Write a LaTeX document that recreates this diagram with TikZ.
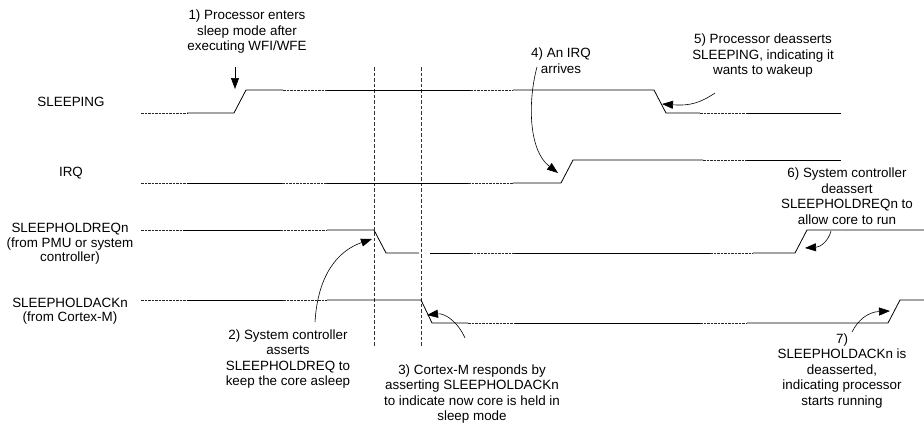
\documentclass[tikz,border=0pt]{standalone}
\usepackage{fontspec}
\setmainfont{Liberation Sans}
\usetikzlibrary{arrows.meta}
\tikzset{
  sig/.style={draw=black, line width=0.8pt},
  brk/.style={draw=black!85, line width=0.7pt, dash pattern=on 2.5pt off 1pt},
  guide/.style={draw=black!80, line width=0.6pt, dash pattern=on 3.5pt off 2pt},
  lbl/.style={align=center, inner sep=0pt, font=\fontsize{13.4}{14.5}\selectfont},
  note/.style={align=center, inner sep=0pt, font=\fontsize{13.4}{15.5}\selectfont},
  arrow/.style={-{Triangle[length=11pt,width=8pt]}, line width=0.6pt}
}
\begin{document}
\begin{tikzpicture}[x=1pt, y=-1pt]
  \useasboundingbox (0,0) rectangle (924,424);
  \node[lbl] (sleeping) at (71,102) {SLEEPING};
  \node[lbl] (irq) at (71,173) {IRQ};
  \node[lbl] (holdreq) at (70,244) {SLEEPHOLDREQn\\(from PMU or system\\controller)};
  \node[lbl] (holdack) at (70,311) {SLEEPHOLDACKn\\(from Cortex-M)};

  \draw[guide] (374,67) -- (374,347);
  \draw[guide] (421,67) -- (421,347);

  % SLEEPING
  \draw[brk] (141,113) -- (187,113);
  \draw[sig] (187,113) -- (234,113) -- (246,90) -- (283,90);
  \draw[brk] (283,90) -- (327,90);
  \draw[sig] (327,90) -- (470,90);
  \draw[brk] (470,90) -- (513,90);
  \draw[sig] (513,90) -- (654,90) -- (666,113) -- (700,113);
  \draw[brk] (700,113) -- (747,113);
  \draw[sig] (747,113) -- (841,113);
  % IRQ
  \draw[brk] (141,183) -- (187,183);
  \draw[sig] (187,183) -- (282,183);
  \draw[brk] (282,183) -- (327,183);
  \draw[sig] (327,183) -- (468,183);
  \draw[brk] (468,183) -- (513,183);
  \draw[sig] (513,183) -- (561,183) -- (573,160) -- (703,160);
  \draw[brk] (703,160) -- (747,160);
  \draw[sig] (747,160) -- (841,160);
  % SLEEPHOLDREQn
  \draw[brk] (141,230) -- (183,230);
  \draw[sig] (183,230) -- (280,230);
  \draw[brk] (280,230) -- (327,230);
  \draw[sig] (327,230) -- (374,230) -- (386,253) -- (419,253);
  \draw[sig] (430,253) -- (470,253);
  \draw[brk] (470,253) -- (515,253);
  \draw[sig] (515,253) -- (710,253);
  \draw[brk] (710,253) -- (753,253);
  \draw[sig] (753,253) -- (795,253) -- (807,230) -- (924,230);
  % SLEEPHOLDACKn
  \draw[brk] (141,300) -- (187,300);
  \draw[sig] (187,300) -- (283,300);
  \draw[brk] (283,300) -- (327,300);
  \draw[sig] (327,300) -- (421,300) -- (432,323) -- (468,323);
  \draw[brk] (468,323) -- (515,323);
  \draw[sig] (515,323) -- (700,323);
  \draw[brk] (700,323) -- (747,323);
  \draw[sig] (747,323) -- (888,323) -- (900,300) -- (924,300);

  \node[note] (n1) at (247,32) {1) Processor enters\\sleep mode after\\executing WFI/WFE};
  \node[note] (n2) at (288,359) {2) System controller\\asserts\\SLEEPHOLDREQ to\\keep the core asleep};
  \node[note] (n3) at (472,394) {3) Cortex-M responds by\\asserting SLEEPHOLDACKn\\to indicate now core is held in\\sleep mode};
  \node[note] (n4) at (561,60.5) {4) An IRQ\\arrives};
  \node[note] (n5) at (763,56) {5) Processor deasserts\\SLEEPING, indicating it\\wants to wakeup};
  \node[note] (n6) at (847,196) {6) System controller\\deassert\\SLEEPHOLDREQn to\\allow core to run};
  \node[note] (n7) at (842,371) {7)\\SLEEPHOLDACKn is\\deasserted,\\indicating processor\\starts running};

  \coordinate (a1) at (235,67);  \coordinate (e1) at (235,89);
  \coordinate (a2) at (315,322); \coordinate (e2) at (372,239);
  \coordinate (a3) at (465,338); \coordinate (e3) at (427,315);
  \coordinate (a4) at (537,67);  \coordinate (e4) at (558,173);
  \coordinate (a5) at (715,93);  \coordinate (e5) at (662,104);
  \coordinate (a6) at (831,231); \coordinate (e6) at (805,248);
  \coordinate (a7) at (852,332); \coordinate (e7) at (890,311);
  \draw[arrow] (a1) -- (e1);
  \draw[arrow] (a2) .. controls (318,272) and (340,250) .. (e2);
  \draw[arrow] (a3) .. controls (458,322) and (445,313) .. (e3);
  \draw[arrow] (a4) .. controls (528,100) and (528,150) .. (e4);
  \draw[arrow] (a5) .. controls (700,103) and (690,106) .. (e5);
  \draw[arrow] (a6) .. controls (828,242) and (820,247) .. (e6);
  \draw[arrow] (a7) .. controls (858,320) and (868,312) .. (e7);
\end{tikzpicture}
\end{document}
